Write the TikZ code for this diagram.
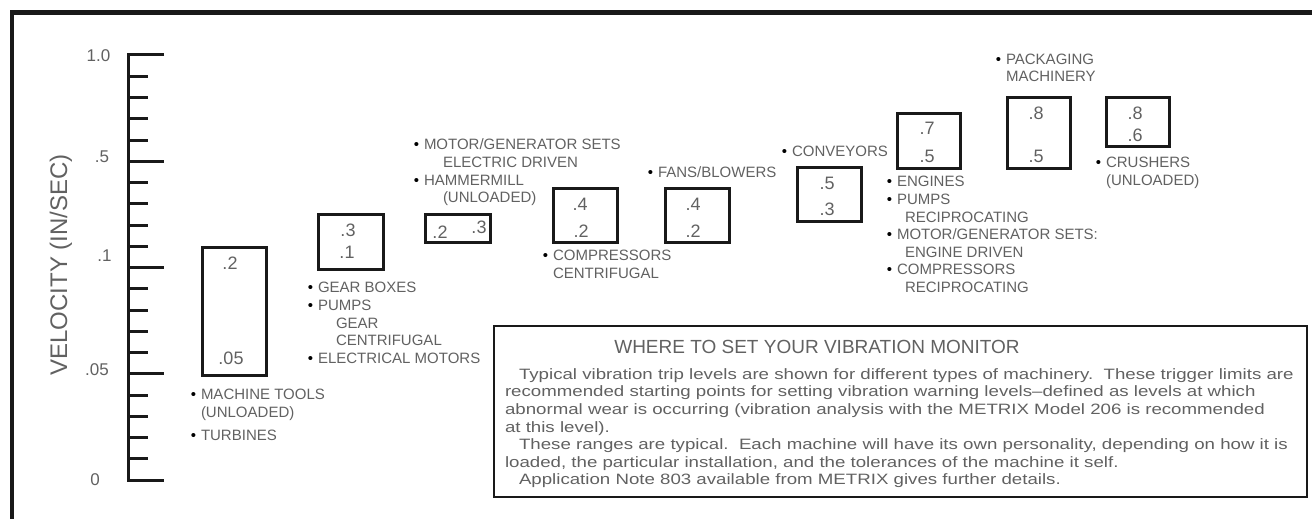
\documentclass[tikz,border=0pt]{standalone}
\usepackage{fontspec}
\setmainfont{Liberation Sans}
\newfontfamily\notefont[FakeStretch=1.245,Ligatures=TeX]{Liberation Sans}
\definecolor{cadtext}{gray}{0.38}
\definecolor{cadline}{gray}{0.1}
\newcommand{\bul}{\llap{\textcolor{black}{\textbullet}\hspace{5pt}}}
\begin{document}
\begin{tikzpicture}[x=1pt,y=-1pt,inner sep=0pt,outer sep=0pt,
levelbox/.style={draw=cadline,rectangle,line width=3pt},
val/.style={text=cadtext,font=\fontsize{18}{20}\selectfont},
ticklab/.style={text=cadtext,font=\fontsize{17}{20}\selectfont},
itemtext/.style={text=cadtext,font=\fontsize{15}{17.6}\selectfont,align=left,anchor=north west,yshift=6.95pt,execute at begin node=\strut}]
\useasboundingbox (0,0) rectangle (1312,519);
% frame
\draw[line width=4.5pt,cadline] (12,519) -- (12,12.5) -- (1312,12.5);
% velocity scale
\draw[line width=3pt,cadline] (164,55) -- (128,55) -- (128,480) -- (164,480);
\foreach \i in {1,...,19}{
  \pgfmathsetmacro{\ticklen}{mod(\i,5)==0 ? 36 : 20}
  \draw[line width=3pt,cadline] (128,55+21.25*\i) -- ++(\ticklen,0);
}
\node[ticklab] (v10) at (98.5,56) {1.0};
\node[ticklab] (v05) at (102,156.5) {.5};
\node[ticklab] (v01) at (104.5,255.5) {.1};
\node[ticklab] (v005) at (97,370) {.05};
\node[ticklab] (v0) at (95,480) {0};
\node[text=cadtext,font=\fontsize{24}{28}\selectfont,rotate=90] (vlabel) at (61,265) {VELOCITY (IN/SEC)};
% trip level boxes
\node[levelbox,minimum width=64pt,minimum height=128pt] (mtools) at (234,311) {};
\node[val] (mtoolshi) at (230,263) {.2};
\node[val] (mtoolslo) at (231,358) {.05};
\node[levelbox,minimum width=65pt,minimum height=55pt] (gear) at (350.5,241.5) {};
\node[val] (gearhi) at (348,230) {.3};
\node[val] (gearlo) at (347,252) {.1};
\node[levelbox,minimum width=65pt,minimum height=28pt] (hammer) at (457.5,228) {};
\node[val] (hammerlo) at (440,232) {.2};
\node[val] (hammerhi) at (479,227) {.3};
\node[levelbox,minimum width=64pt,minimum height=54pt] (compc) at (585,215) {};
\node[val] (compchi) at (580,204) {.4};
\node[val] (compclo) at (581,231) {.2};
\node[levelbox,minimum width=64pt,minimum height=54pt] (fans) at (697,215) {};
\node[val] (fanshi) at (693,204) {.4};
\node[val] (fanslo) at (693,231) {.2};
\node[levelbox,minimum width=64pt,minimum height=54pt] (conv) at (829,194) {};
\node[val] (convhi) at (827,183) {.5};
\node[val] (convlo) at (827,209) {.3};
\node[levelbox,minimum width=63pt,minimum height=55pt] (eng) at (928.5,140.5) {};
\node[val] (enghi) at (927,128) {.7};
\node[val] (englo) at (927,156) {.5};
\node[levelbox,minimum width=63pt,minimum height=71pt] (pack) at (1038.5,132.5) {};
\node[val] (packhi) at (1036,113) {.8};
\node[val] (packlo) at (1036,156) {.5};
\node[levelbox,minimum width=63pt,minimum height=49pt] (crush) at (1137.5,121.5) {};
\node[val] (crushhi) at (1135,113) {.8};
\node[val] (crushlo) at (1135,135) {.6};
% machine lists
\node[itemtext] (mtoolstxt) at (201,396) {\bul MACHINE TOOLS\\(UNLOADED)\\[6pt]\bul TURBINES};
\node[itemtext] (geartxt) at (318,289.3) {\bul GEAR BOXES\\\bul PUMPS\\\hspace*{18pt}GEAR\\\hspace*{18pt}CENTRIFUGAL\\\bul ELECTRICAL MOTORS};
\node[itemtext] (motortxt) at (424,146) {\bul MOTOR/GENERATOR SETS\\\hspace*{19pt}ELECTRIC DRIVEN\\\bul HAMMERMILL\\\hspace*{19pt}(UNLOADED)};
\node[itemtext] (compctxt) at (553,257.3) {\bul COMPRESSORS\\CENTRIFUGAL};
\node[itemtext] (fanstxt) at (658,172.3) {\bul FANS/BLOWERS};
\node[itemtext] (convtxt) at (792,151) {\bul CONVEYORS};
\node[itemtext] (engtxt) at (897,183.3) {\bul ENGINES\\\bul PUMPS\\\hspace*{8pt}RECIPROCATING\\\bul MOTOR/GENERATOR SETS:\\\hspace*{8pt}ENGINE DRIVEN\\\bul COMPRESSORS\\\hspace*{8pt}RECIPROCATING};
\node[itemtext] (packtxt) at (1006,60.7) {\bul PACKAGING\\MACHINERY};
\node[itemtext] (crushtxt) at (1106,164.3) {\bul CRUSHERS\\(UNLOADED)};
% note
\node[draw=cadline,line width=2.7pt,minimum width=813pt,minimum height=171pt] (notebox) at (900.5,411.5) {};
\node[text=cadtext,font=\fontsize{19}{22}\selectfont] (notetitle) at (817,346.7) {WHERE TO SET YOUR VIBRATION MONITOR};
\node[itemtext,font=\notefont\fontsize{15}{17.6}\selectfont] (notebody) at (505,375.4) {\hspace*{14pt}Typical vibration trip levels are shown for different types of machinery.\ \ These trigger limits are\\
recommended starting points for setting vibration warning levels\textendash defined as levels at which\\
abnormal wear is occurring (vibration analysis with the METRIX Model 206 is recommended\\
at this level).\\
\hspace*{14pt}These ranges are typical.\ \ Each machine will have its own personality, depending on how it is\\
loaded, the particular installation, and the tolerances of the machine it self.\\
\hspace*{14pt}Application Note 803 available from METRIX gives further details.};
\end{tikzpicture}
\end{document}
